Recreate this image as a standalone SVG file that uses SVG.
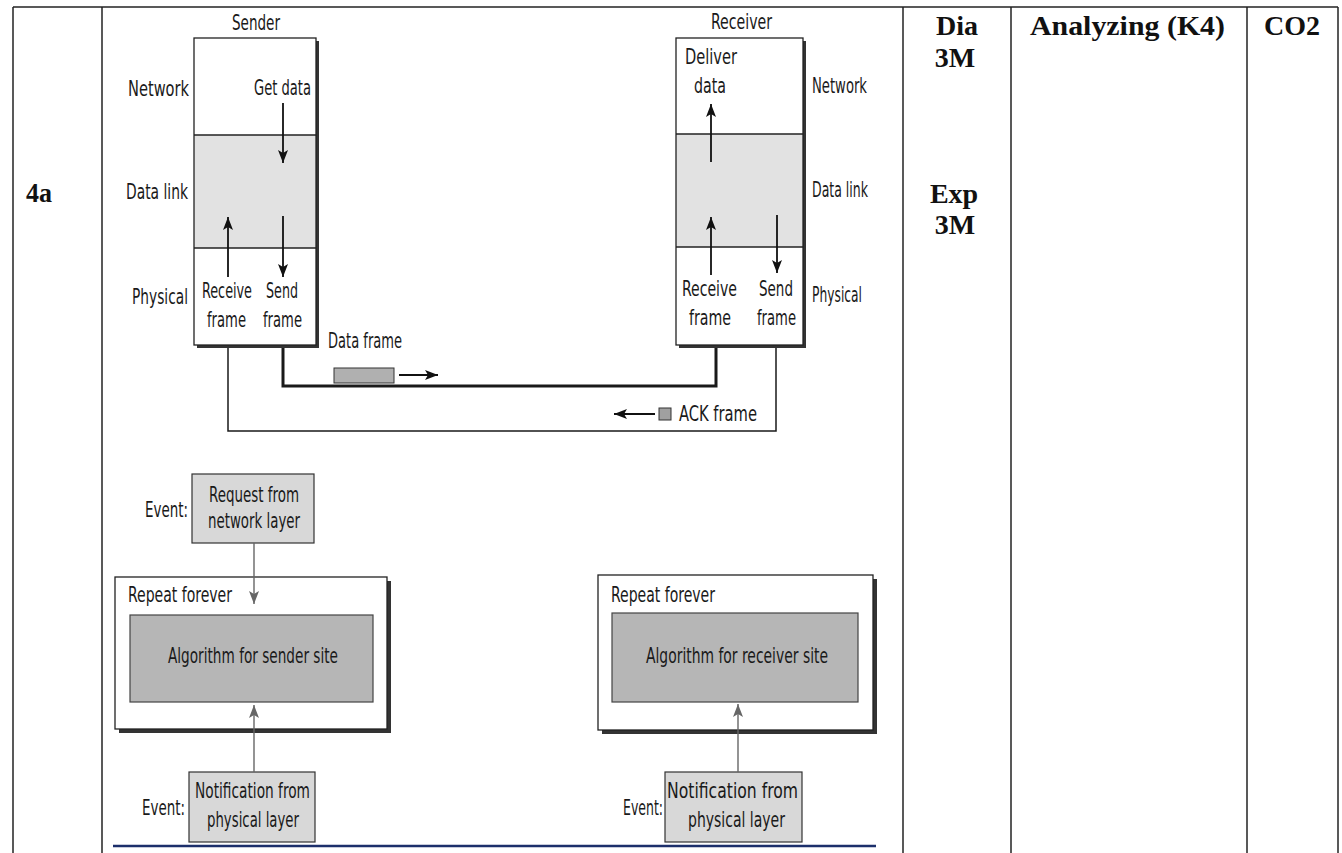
<svg xmlns="http://www.w3.org/2000/svg" width="1342" height="853" viewBox="0 0 1342 853">
<style>
.t{font-family:"Liberation Sans Narrow","DejaVu Sans Condensed","Liberation Sans",sans-serif;font-size:21px;fill:#1a1a1a}
.h{font-family:"Liberation Serif","Times New Roman",serif;font-weight:bold;font-size:28px;fill:#111}
.grid{stroke:#222;stroke-width:1.5;fill:none}
.box{fill:#fff;stroke:#222;stroke-width:1.3}
.shadow{fill:#333}
.light{fill:#e2e2e2}
.ev{fill:#d8d8d8;stroke:#333;stroke-width:1.2}
.alg{fill:#b6b6b6;stroke:#444;stroke-width:1.2}
.arr{stroke:#111;stroke-width:1.8;fill:none;marker-end:url(#ah)}
.garr{stroke:#666;stroke-width:1.4;fill:none;marker-end:url(#gh)}
.link{stroke:#1a1a1a;fill:none}
</style>
<defs>
<marker id="ah" markerUnits="userSpaceOnUse" markerWidth="14" markerHeight="10" refX="13" refY="5" orient="auto">
<path d="M0,0 L13,5 L0,10 L3,5 z" fill="#111"/>
</marker>
<marker id="gh" markerUnits="userSpaceOnUse" markerWidth="14" markerHeight="10" refX="13" refY="5" orient="auto">
<path d="M0,0 L13,5 L0,10 L3,5 z" fill="#666"/>
</marker>
</defs>

<g id="table">
<line class="grid" x1="13" y1="7" x2="1338" y2="7"/>
<line class="grid" x1="13" y1="7" x2="13" y2="853"/>
<line class="grid" x1="102" y1="7" x2="102" y2="853"/>
<line class="grid" x1="903" y1="7" x2="903" y2="853"/>
<line class="grid" x1="1011" y1="7" x2="1011" y2="853"/>
<line class="grid" x1="1247" y1="7" x2="1247" y2="853"/>
<line class="grid" x1="1338" y1="7" x2="1338" y2="853"/>
<text class="h" x="26" y="202" font-size="25" textLength="26" lengthAdjust="spacingAndGlyphs">4a</text>
<text class="h" x="957" y="35" text-anchor="middle">Dia</text>
<text class="h" x="955" y="67" text-anchor="middle">3M</text>
<text class="h" x="954" y="203" text-anchor="middle">Exp</text>
<text class="h" x="955" y="234" text-anchor="middle">3M</text>
<text class="h" x="1030" y="35" textLength="195" lengthAdjust="spacingAndGlyphs">Analyzing (K4)</text>
<text class="h" x="1292" y="35" text-anchor="middle">CO2</text>
</g>

<g id="sender">
<rect class="shadow" x="197" y="41" width="122" height="307"/>
<rect x="194" y="38" width="122" height="307" fill="#fff"/>
<rect class="light" x="194" y="135" width="122" height="113"/>
<rect x="194" y="38" width="122" height="307" fill="none" stroke="#222" stroke-width="1.3"/>
<line x1="194" y1="135" x2="316" y2="135" stroke="#222" stroke-width="1.3"/>
<line x1="194" y1="248" x2="316" y2="248" stroke="#222" stroke-width="1.3"/>
<text class="t" x="232" y="30" textLength="48" lengthAdjust="spacingAndGlyphs">Sender</text>
<text class="t" x="128" y="96" textLength="61" lengthAdjust="spacingAndGlyphs">Network</text>
<text class="t" x="254" y="95" textLength="57" lengthAdjust="spacingAndGlyphs">Get data</text>
<text class="t" x="126" y="199" textLength="62" lengthAdjust="spacingAndGlyphs">Data link</text>
<text class="t" x="132" y="304" textLength="56" lengthAdjust="spacingAndGlyphs">Physical</text>
<text class="t" x="202" y="298" textLength="50" lengthAdjust="spacingAndGlyphs">Receive</text>
<text class="t" x="207" y="327" textLength="39" lengthAdjust="spacingAndGlyphs">frame</text>
<text class="t" x="266" y="298" textLength="32" lengthAdjust="spacingAndGlyphs">Send</text>
<text class="t" x="263" y="327" textLength="39" lengthAdjust="spacingAndGlyphs">frame</text>
</g>

<g id="receiver">
<rect class="shadow" x="679" y="41" width="127" height="307"/>
<rect x="676" y="38" width="127" height="307" fill="#fff"/>
<rect class="light" x="676" y="134" width="127" height="113"/>
<rect x="676" y="38" width="127" height="307" fill="none" stroke="#222" stroke-width="1.3"/>
<line x1="676" y1="134" x2="803" y2="134" stroke="#222" stroke-width="1.3"/>
<line x1="676" y1="247" x2="803" y2="247" stroke="#222" stroke-width="1.3"/>
<text class="t" x="711" y="29" textLength="61" lengthAdjust="spacingAndGlyphs">Receiver</text>
<text class="t" x="685" y="64" textLength="52" lengthAdjust="spacingAndGlyphs">Deliver</text>
<text class="t" x="694" y="93" textLength="32" lengthAdjust="spacingAndGlyphs">data</text>
<text class="t" x="812" y="93" textLength="55" lengthAdjust="spacingAndGlyphs">Network</text>
<text class="t" x="812" y="197" textLength="56" lengthAdjust="spacingAndGlyphs">Data link</text>
<text class="t" x="812" y="302" textLength="50" lengthAdjust="spacingAndGlyphs">Physical</text>
<text class="t" x="682" y="296" textLength="55" lengthAdjust="spacingAndGlyphs">Receive</text>
<text class="t" x="689" y="325" textLength="42" lengthAdjust="spacingAndGlyphs">frame</text>
<text class="t" x="759" y="296" textLength="34" lengthAdjust="spacingAndGlyphs">Send</text>
<text class="t" x="757" y="325" textLength="39" lengthAdjust="spacingAndGlyphs">frame</text>
</g>

<g id="data-frame">
<text class="t" x="328" y="348" textLength="74" lengthAdjust="spacingAndGlyphs">Data frame</text>
<rect x="334" y="368" width="60" height="15" fill="#b0b0b0" stroke="#333" stroke-width="1"/>
</g>

<g id="ack-frame">
<rect x="659" y="408" width="12" height="12" fill="#a0a0a0" stroke="#333" stroke-width="1"/>
<text class="t" x="679" y="421" textLength="78" lengthAdjust="spacingAndGlyphs">ACK frame</text>
</g>

<g id="sender-request">
<rect class="ev" x="192" y="474" width="122" height="69"/>
<text class="t" x="209" y="502" textLength="90" lengthAdjust="spacingAndGlyphs">Request from</text>
<text class="t" x="208" y="528" textLength="92" lengthAdjust="spacingAndGlyphs">network layer</text>
<text class="t" x="145" y="517" textLength="43" lengthAdjust="spacingAndGlyphs">Event:</text>
</g>

<g id="sender-loop">
<rect class="shadow" x="119" y="581" width="272" height="152"/>
<rect class="box" x="115" y="577" width="272" height="152"/>
<text class="t" x="128" y="602" textLength="104" lengthAdjust="spacingAndGlyphs">Repeat forever</text>
<rect class="alg" x="130" y="615" width="243" height="87"/>
<text class="t" x="168" y="663" textLength="170" lengthAdjust="spacingAndGlyphs">Algorithm for sender site</text>
</g>

<g id="sender-notification">
<rect class="ev" x="189" y="772" width="126" height="70"/>
<text class="t" x="195" y="798" textLength="115" lengthAdjust="spacingAndGlyphs">Notification from</text>
<text class="t" x="207" y="827" textLength="92" lengthAdjust="spacingAndGlyphs">physical layer</text>
<text class="t" x="142" y="815" textLength="43" lengthAdjust="spacingAndGlyphs">Event:</text>
</g>

<g id="receiver-loop">
<rect class="shadow" x="602" y="579" width="275" height="155"/>
<rect class="box" x="598" y="575" width="275" height="155"/>
<text class="t" x="611" y="602" textLength="104" lengthAdjust="spacingAndGlyphs">Repeat forever</text>
<rect class="alg" x="612" y="613" width="246" height="89"/>
<text class="t" x="646" y="663" textLength="182" lengthAdjust="spacingAndGlyphs">Algorithm for receiver site</text>
</g>

<g id="receiver-notification">
<rect class="ev" x="665" y="772" width="137" height="70"/>
<text class="t" x="667" y="798" textLength="131" lengthAdjust="spacingAndGlyphs">Notification from</text>
<text class="t" x="688" y="827" textLength="97" lengthAdjust="spacingAndGlyphs">physical layer</text>
<text class="t" x="623" y="815" textLength="40" lengthAdjust="spacingAndGlyphs">Event:</text>
</g>

<g id="connectors">
<line class="arr" x1="283" y1="103" x2="283" y2="163"/>
<line class="arr" x1="228" y1="277" x2="228" y2="217"/>
<line class="arr" x1="283" y1="216" x2="283" y2="277"/>
<line class="arr" x1="711" y1="162" x2="711" y2="104"/>
<line class="arr" x1="711" y1="275" x2="711" y2="217"/>
<line class="arr" x1="777" y1="215" x2="777" y2="273"/>
<polyline class="link" stroke-width="3" points="283,348 283,386 716,386 716,348"/>
<polyline class="link" stroke-width="1.5" points="228,348 228,431 776,431 776,348"/>
<line class="arr" x1="399" y1="375" x2="438" y2="375"/>
<line class="arr" x1="655" y1="414" x2="614" y2="414"/>
<line class="garr" x1="254" y1="543" x2="254" y2="604"/>
<line class="garr" x1="254" y1="772" x2="254" y2="705"/>
<line class="garr" x1="738" y1="772" x2="738" y2="704"/>
<line x1="113" y1="846" x2="876" y2="846" stroke="#1c2f6b" stroke-width="2.5"/>
</g>
</svg>
